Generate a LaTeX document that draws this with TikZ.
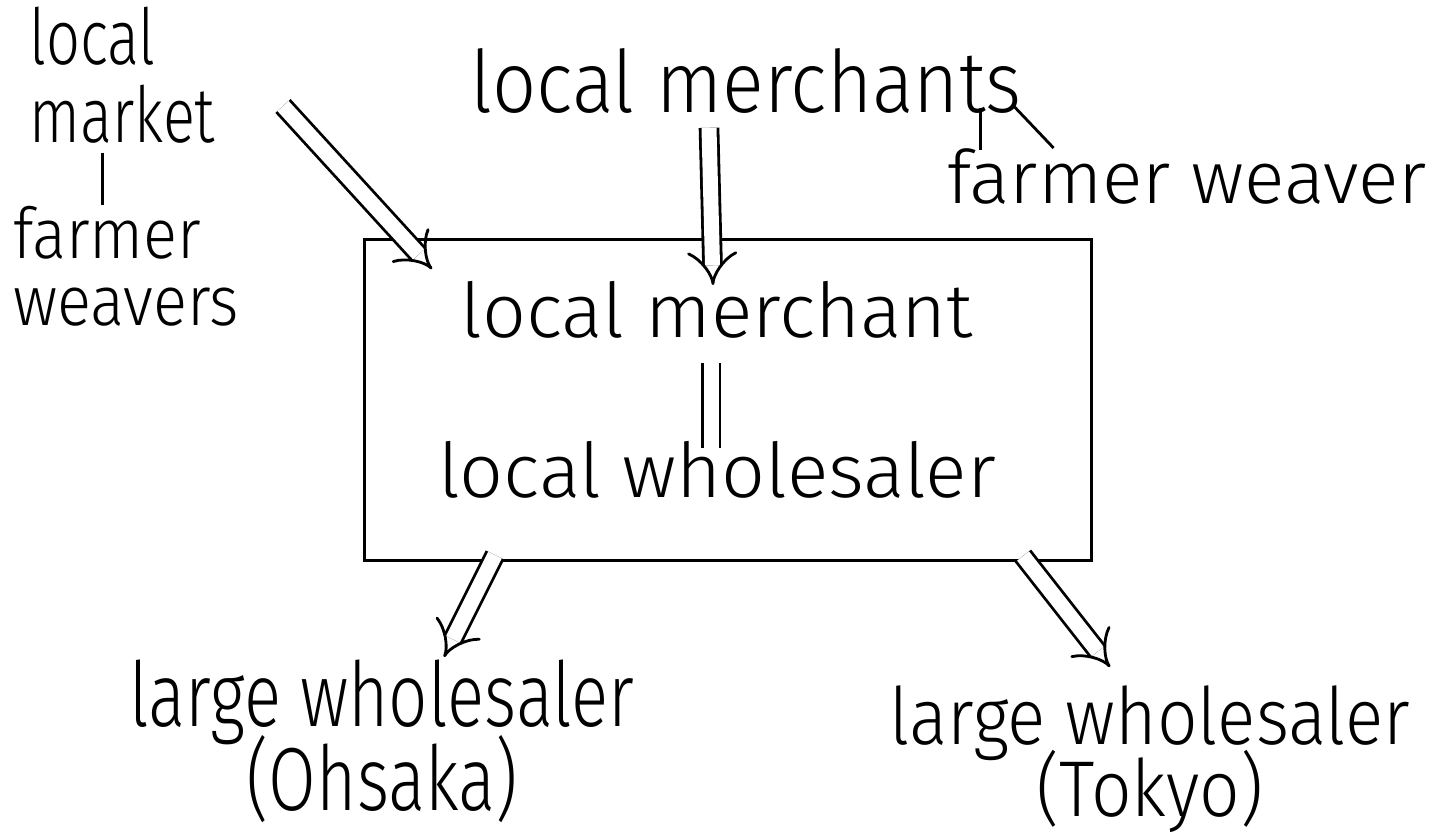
\documentclass[tikz,border=0pt]{standalone}
\usepackage{fontspec}
\usepackage{tikz}
\usetikzlibrary{arrows.meta}
% three widths of the same light sans
\newfontfamily\handn[UprightFont={* Light}, FakeStretch=0.77]{Fira Sans}
\newfontfamily\handm[UprightFont={* Light}, FakeStretch=0.9]{Fira Sans}
\newfontfamily\handw[UprightFont={* Light}, FakeStretch=1.02]{Fira Sans}
\newcommand{\hs}[3]{#1\fontsize{#2}{#3}\selectfont\lineskiplimit=-50pt}
\tikzstyle{word}=[inner sep=0pt, align=center, anchor=north]
\tikzstyle{flow}=[double, double distance=0.15cm, -{Implies[length=11pt, width=16pt]}]
\tikzstyle{pair}=[double, double distance=0.15cm]

\begin{document}
\begin{tikzpicture}[x=0.01cm, y=-0.01cm, line width=0.8pt]
      \useasboundingbox (0,0) rectangle (1445,836);
      % sources
      \node[word, align=left, anchor=north west, font=\hs{\handn}{22}{22}] (mkt) at (28,6) {local\\market};
      \node[word, align=left, anchor=north west, font=\hs{\handm}{20}{19}] (fw) at (12,205) {farmer\\weavers};
      \node[word, font=\hs{\handm}{24.5}{28}] (lms) at (746,47) {local merchants};
      \node[word, font=\hs{\handw}{21}{24}] (fwr) at (1187,147) {farmer weaver};
      % the box
      \node[draw, minimum width=7.27cm, minimum height=3.21cm] (box) at (728,400) {};
      \node[word, font=\hs{\handw}{21.5}{24}] (lm) at (717,280) {local merchant};
      \node[word, font=\hs{\handw}{21.5}{24}] (lw) at (717,440) {local wholesaler};
      % buyers
      \node[word, font=\hs{\handn}{25.5}{24}] (lo) at (382,658) {large wholesaler\\(Ohsaka)};
      \node[word, font=\hs{\handm}{22.5}{20.5}] (lt) at (1150,684) {large wholesaler\\(Tokyo)};
      % links
      \coordinate (mk) at ([shift={(-20,8)}]mkt.south);
      \draw (mk) -- (mk |- fw.north);
      \draw ([shift={(35,-39)}]fwr.north west) -- ([shift={(35,3)}]fwr.north west);
      \draw ([shift={(69,-40)}]fwr.north west) -- ([shift={(108,1)}]fwr.north west);
      \coordinate (a1) at (283,106);
      \coordinate (a1e) at (432,269);
      \draw[flow] (a1) -- (a1e);
      \draw[flow] ([shift={(-37,13)}]lms.south) -- ([shift={(-4,5)}]lm.north);
      \draw[pair] ([shift={(-6,23)}]lm.south) -- ([shift={(-6,8)}]lw.north);
      \draw[flow] ([shift={(-233,-7)}]box.south) -- ([shift={(62,-1)}]lo.north);
      \draw[flow] ([shift={(295,-6)}]box.south) -- ([shift={(-40,-17)}]lt.north);
    \end{tikzpicture}
\end{document}
